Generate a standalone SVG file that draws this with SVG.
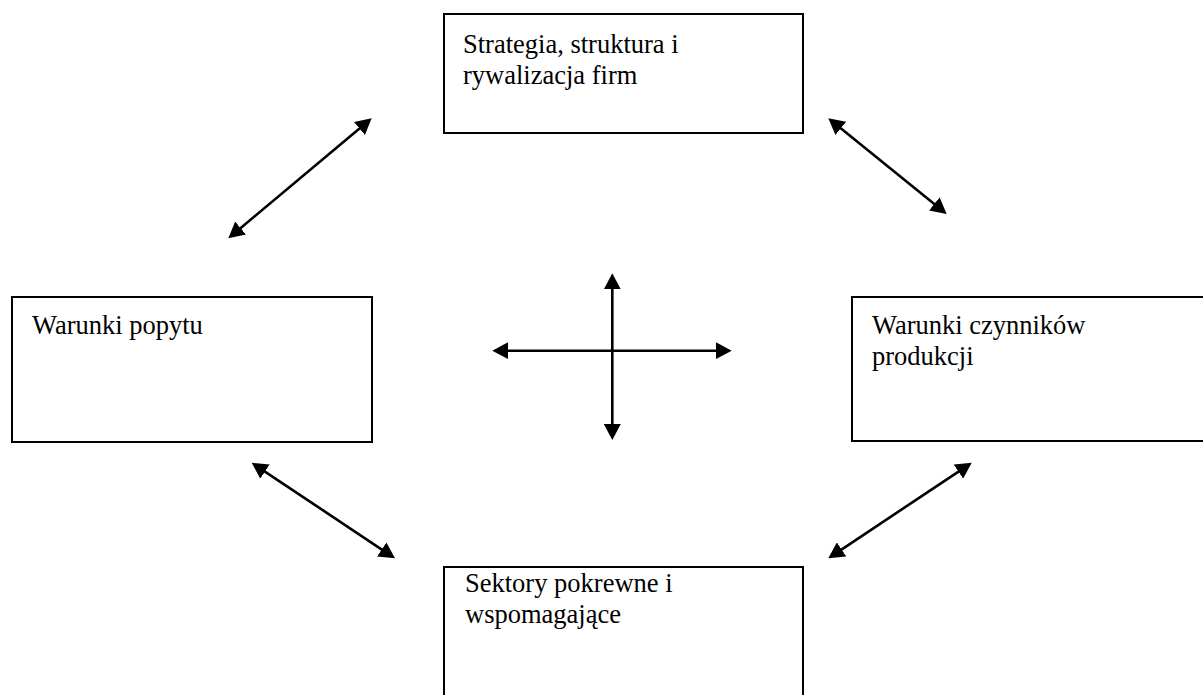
<svg xmlns="http://www.w3.org/2000/svg" width="1203" height="695" viewBox="0 0 1203 695">
<style>
.box{fill:#fff;stroke:#000;stroke-width:2}
.lbl{font-family:"Liberation Serif","Times New Roman",serif;font-size:26.5px;fill:#000}
.arr{stroke:#000;stroke-width:2.6;fill:none;marker-start:url(#ah);marker-end:url(#ah)}
</style>
<defs>
<marker id="ah" viewBox="0 0 16 17" refX="6" refY="8.5" markerWidth="16" markerHeight="17" markerUnits="userSpaceOnUse" orient="auto-start-reverse">
<path d="M0,0 L16,8.5 L0,17 Z" fill="#000"/>
</marker>
</defs>
<rect width="1203" height="695" fill="#fff"/>
<g id="strategia">
<rect class="box" x="444" y="14" width="359" height="119"/>
<text class="lbl" x="463" y="53">Strategia, struktura i</text>
<text class="lbl" x="463" y="84">rywalizacja firm</text>
</g>
<g id="popyt">
<rect class="box" x="12" y="297" width="360" height="145"/>
<text class="lbl" x="32" y="334">Warunki popytu</text>
</g>
<g id="czynniki">
<rect class="box" x="852" y="297" width="360" height="144"/>
<text class="lbl" x="872" y="334">Warunki czynników</text>
<text class="lbl" x="872" y="365">produkcji</text>
</g>
<g id="sektory">
<rect class="box" x="444" y="567" width="359" height="140"/>
<text class="lbl" x="465" y="592">Sektory pokrewne i</text>
<text class="lbl" x="465" y="623">wspomagające</text>
</g>
<g id="connectors">
<line class="arr" x1="364" y1="124.7" x2="236" y2="231.9"/>
<line class="arr" x1="836.1" y1="124.6" x2="938.9" y2="207.7"/>
<line class="arr" x1="260" y1="468.3" x2="386.7" y2="552.8"/>
<line class="arr" x1="963.4" y1="468.3" x2="836.6" y2="552.8"/>
<line class="arr" x1="612.3" y1="283.3" x2="612.3" y2="430"/>
<line class="arr" x1="502.3" y1="350.7" x2="721.7" y2="350.7"/>
</g>
</svg>
